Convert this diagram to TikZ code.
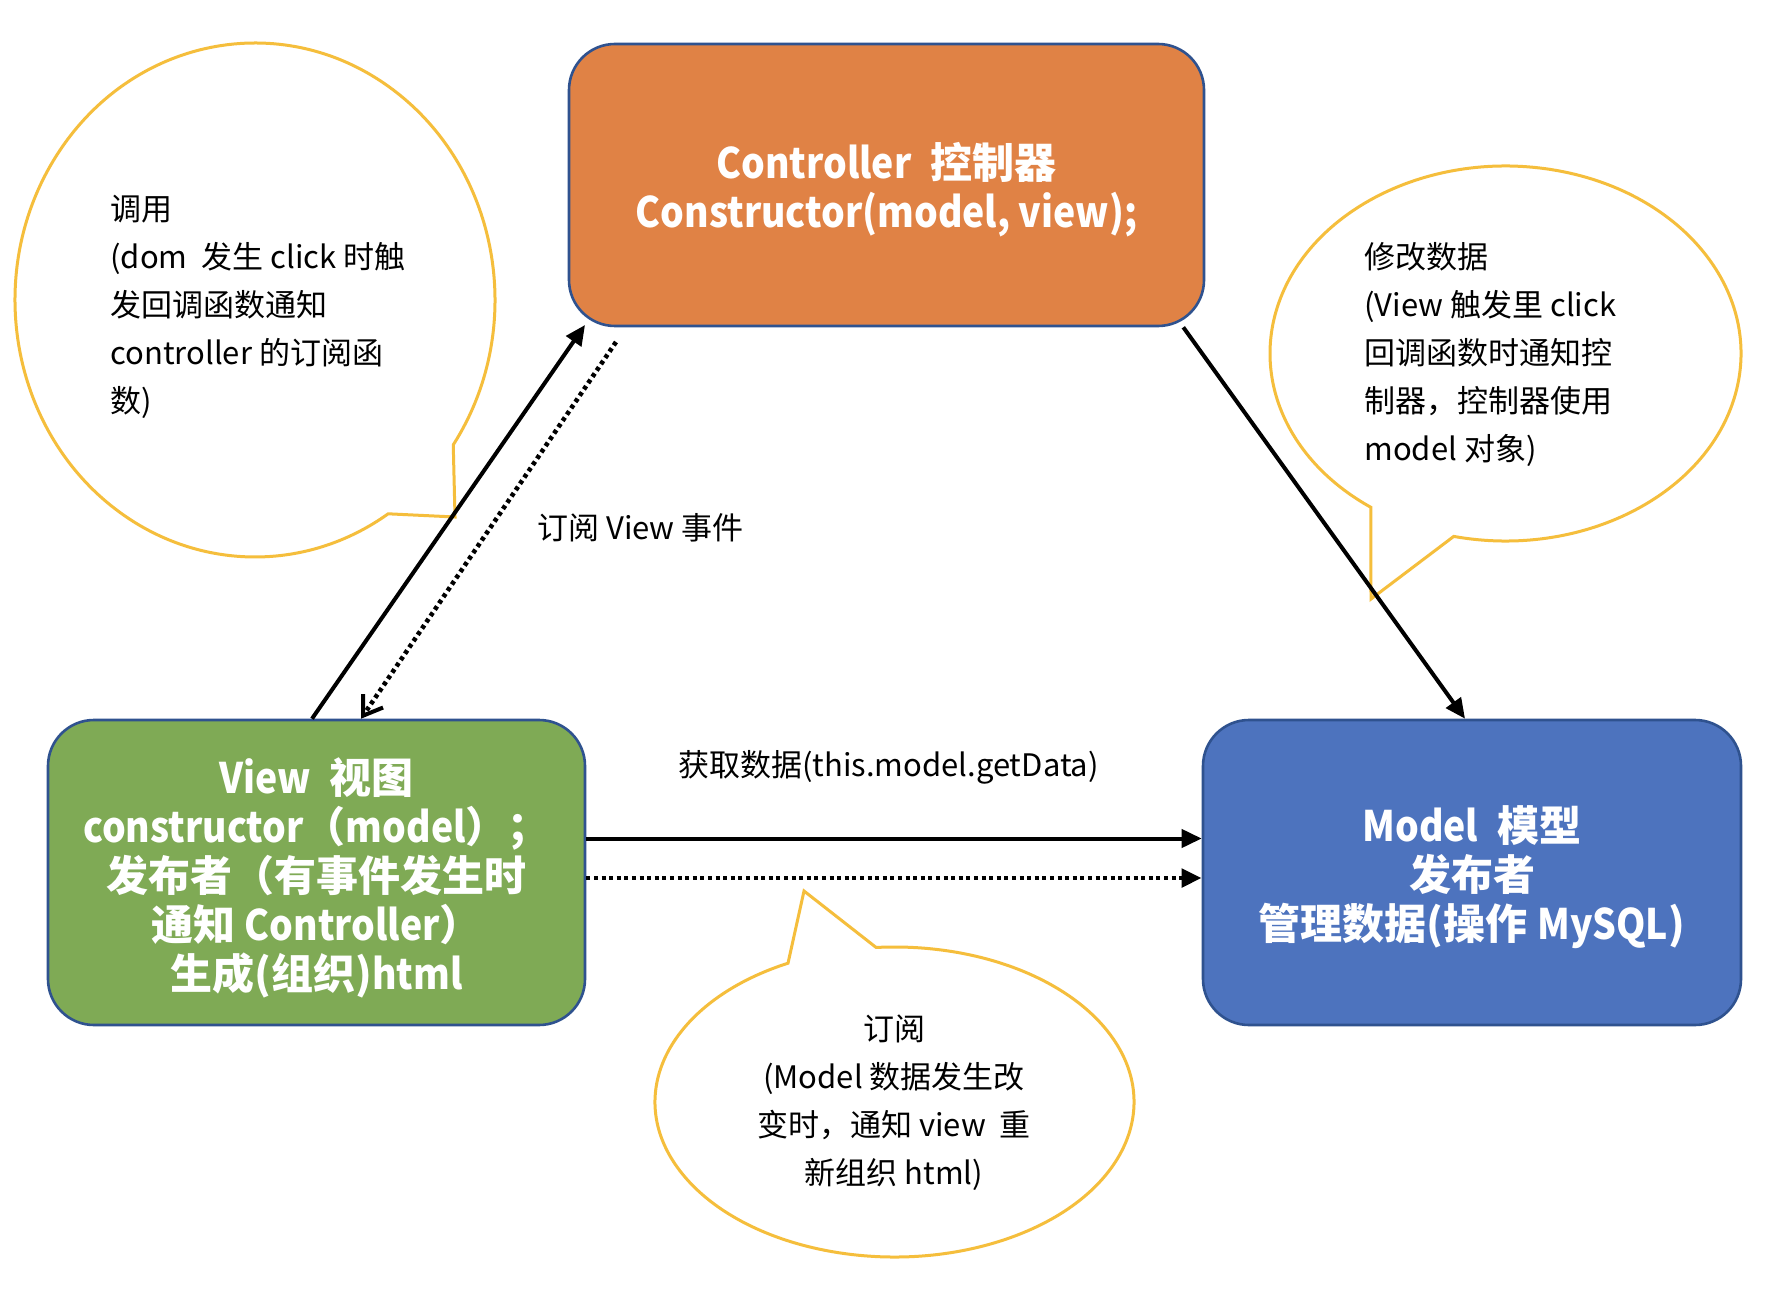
\documentclass[tikz,border=0pt]{standalone}
\usepackage{fontspec}
\setmainfont{Noto Sans CJK SC}
\newfontfamily\latn{Noto Sans CJK SC}[FakeStretch=0.89]
\usetikzlibrary{arrows.meta}
\definecolor{ctrlorange}{RGB}{224,130,69}
\definecolor{viewgreen}{RGB}{127,170,85}
\definecolor{modelblue}{RGB}{77,115,190}
\definecolor{boxborder}{RGB}{47,82,143}
\definecolor{bubblegold}{RGB}{245,190,60}
\begin{document}
\begin{tikzpicture}[x=0.5pt, y=-0.5pt,
  mainbox/.style={draw=boxborder, line width=1.3pt, rounded corners=23pt, inner sep=0pt},
  boxtext/.style={text=white, font=\fontsize{21pt}{24.5pt}\selectfont\bfseries, align=center, inner sep=0pt},
  bubble/.style={draw=bubblegold, line width=1.5pt, fill=white, line join=miter},
  bubtext/.style={font=\fontsize{15.5pt}{24pt}\selectfont, inner sep=0pt},
  lbl/.style={font=\fontsize{15.5pt}{24pt}\selectfont, inner sep=0pt},
  solidarrow/.style={line width=2pt, -{Triangle[length=10pt,width=9pt]}},
  dotarrow/.style={line width=2.4pt, dash pattern=on 2pt off 1.8pt, -{Triangle[length=10pt,width=9pt]}},
  dotbarb/.style={line width=2.3pt, dash pattern=on 2pt off 1.8pt, -{Straight Barb[length=9pt,width=12pt,line width=2pt]}}
]
\useasboundingbox (0,0) rectangle (1772,1294);
\fill[white] (0,0) rectangle (1772,1294);

% speech bubbles
\draw[bubble] (255,300) ++(-34.3:120pt and 128.5pt)
  arc[start angle=-34.3, end angle=303.7, x radius=120pt, y radius=128.5pt] -- (455,517) -- cycle;
\draw[bubble] (1505.5,353.5) ++(257.3:117.75pt and 93.75pt)
  arc[start angle=257.3, end angle=595.1, x radius=117.75pt, y radius=93.75pt] -- (1371,599) -- cycle;
\draw[bubble] (894.5,1102) ++(116.4:119.75pt and 77.5pt)
  arc[start angle=116.4, end angle=454.4, x radius=119.75pt, y radius=77.5pt] -- (804,891) -- cycle;

\node[bubtext, align=left, anchor=west] (tl) at (110,307)
  {调用\\(dom\ \ 发生 click 时触\\发回调函数通知\\controller 的订阅函\\数)};
\node[bubtext, align=left, anchor=west] (tr) at (1364,355)
  {修改数据\\(View 触发里 click\\回调函数时通知控\\制器，控制器使用\\model 对象)};
\node[bubtext, align=center] (bt) at (894,1103)
  {订阅\\(Model 数据发生改\\变时，通知 view\ \ 重\\新组织 html)};

% boxes
\node[mainbox, fill=ctrlorange, minimum width=317.5pt, minimum height=141pt] (ctrl) at (886.5,185) {};
\node[mainbox, fill=viewgreen, minimum width=268.5pt, minimum height=152.5pt] (view) at (316.5,872.5) {};
\node[mainbox, fill=modelblue, minimum width=269pt, minimum height=152.5pt] (model) at (1472,872.5) {};

\node[boxtext] (ctrltext) at ([yshift=-2.5pt]ctrl.center)
  {{\latn Controller}\ \ 控制器\\{\latn Constructor(model, view);}};
\node[boxtext] (viewtext) at ([yshift=-2.5pt]view.center)
  {{\latn View}\ \ 视图\\{\latn constructor}（{\latn model}）；\\发布者（有事件发生时\\通知 {\latn Controller}）\\生成({组织}){\latn html}};
\node[boxtext] (modeltext) at ([yshift=-2.5pt]model.center)
  {{\latn Model}\ \ 模型\\发布者\\管理数据({操作} {\latn MySQL})};

% labels
\node[lbl] (lblsub) at (640.5,528) {订阅 View 事件};
\node[lbl] (lblget) at (888.5,767) {获取数据(this.model.getData)};

% connectors
\coordinate (vcA) at (585,325);
\coordinate (vcB) at (616,342);
\draw[solidarrow] ([xshift=-2.25pt]view.north) -- (vcA);
\draw[dotbarb] (vcB) -- ([xshift=22.25pt]view.north);
\draw[solidarrow] ([xshift=-11pt]ctrl.south east) -- ([xshift=-3.5pt]model.north);
\draw[solidarrow] ([yshift=17pt]view.east) -- ([yshift=17pt]model.west);
\draw[dotarrow] ([yshift=-2.75pt]view.east) -- ([yshift=-2.75pt]model.west);
\end{tikzpicture}
\end{document}
